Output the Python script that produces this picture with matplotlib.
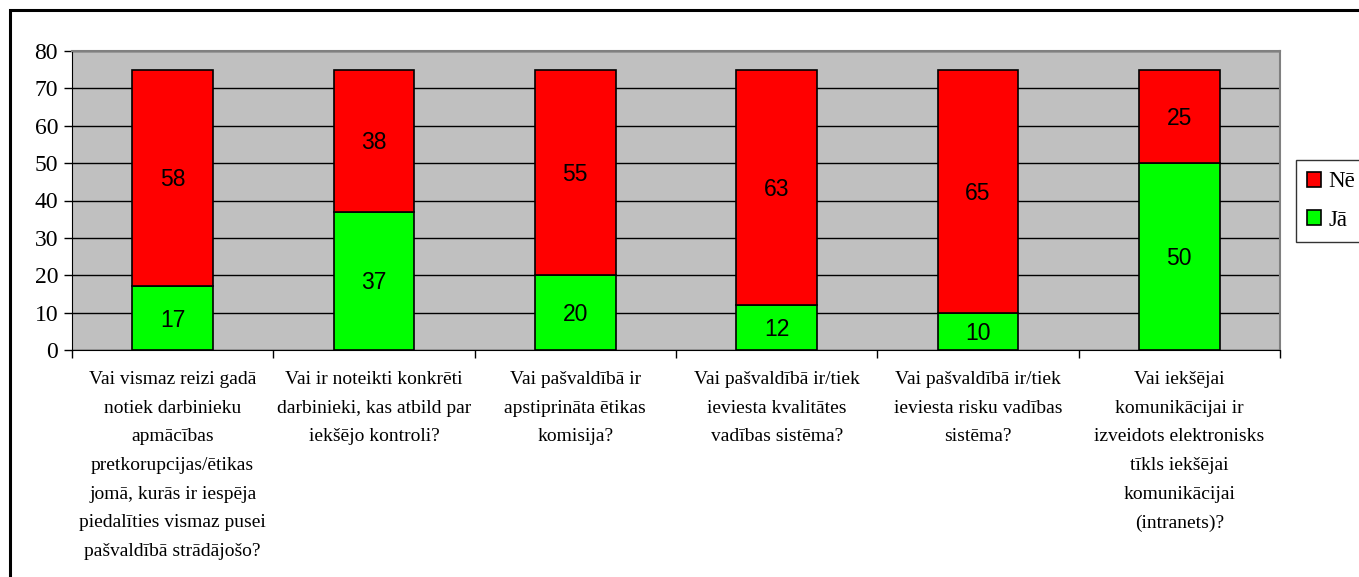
import matplotlib.pyplot as plt
from matplotlib.patches import Rectangle

categories = [
    "Vai vismaz reizi gadā\nnotiek darbinieku\napmācības\npretkorupcijas/ētikas\njomā, kurās ir iespēja\npiedalīties vismaz pusei\npašvaldībā strādājošo?",
    "Vai ir noteikti konkrēti\ndarbinieki, kas atbild par\niekšējo kontroli?",
    "Vai pašvaldībā ir\napstiprināta ētikas\nkomisija?",
    "Vai pašvaldībā ir/tiek\nieviesta kvalitātes\nvadības sistēma?",
    "Vai pašvaldībā ir/tiek\nieviesta risku vadības\nsistēma?",
    "Vai iekšējai\nkomunikācijai ir\nizveidots elektronisks\ntīkls iekšējai\nkomunikācijai\n(intranets)?",
]
ja = [17, 37, 20, 12, 10, 50]
ne = [58, 38, 55, 63, 65, 25]

serif = "Liberation Serif"
sans = "Liberation Sans"

fig = plt.figure(figsize=(13.59, 5.77), dpi=100)
W, H = 1359, 577
ax = fig.add_axes([72 / W, 1 - 350 / H, 1208 / W, 299 / H])

# outer frame of the chart area
fig.patches.append(Rectangle((10 / W, -0.05), 1.1, 1 - 10 / H + 0.05, transform=fig.transFigure,
                             fill=False, edgecolor="black", linewidth=2.2))

x = range(len(categories))
ax.set_facecolor("#C0C0C0")
ax.set_axisbelow(True)
ax.grid(axis="y", color="black", linewidth=1.0)

b1 = ax.bar(x, ja, width=0.4, color="#00FF00", edgecolor="black", linewidth=1.2, label="Jā")
b2 = ax.bar(x, ne, width=0.4, bottom=ja, color="#FF0000", edgecolor="black", linewidth=1.2, label="Nē")

for i in x:
    ax.text(i, ja[i] / 2 - 0.5, str(ja[i]), ha="center", va="center", fontsize=16.5, family=sans)
    ax.text(i, ja[i] + ne[i] / 2 - 0.5, str(ne[i]), ha="center", va="center", fontsize=16.5, family=sans)

ax.set_xlim(-0.5, len(categories) - 0.5)
ax.set_ylim(0, 80)
ax.set_yticks(range(0, 81, 10))
ax.set_xticks([i + 0.5 for i in range(-1, len(categories))], minor=False)
ax.set_xticklabels([])
ax.tick_params(axis="x", length=6, width=1, direction="out")
ax.tick_params(axis="y", length=6, width=1, direction="out", labelsize=17, pad=4)
for lbl in ax.get_yticklabels():
    lbl.set_family(serif)

for i, c in enumerate(categories):
    ax.text(i, -5.6, c, ha="center", va="top", fontsize=14, family=serif, linespacing=1.9)

ax.spines["left"].set_color("black")
ax.spines["bottom"].set_color("black")
ax.spines["top"].set_color("#808080")
ax.spines["right"].set_color("#808080")
ax.spines["top"].set_linewidth(1.5)
ax.spines["right"].set_linewidth(1.5)

leg = ax.legend(handles=[b2, b1], loc="upper left", bbox_to_anchor=(1224 / 1208, (350 - 160) / 299),
                frameon=True, fancybox=False, edgecolor="black", prop={"family": serif, "size": 16.5},
                handlelength=0.6, handleheight=0.6, handletextpad=0.3, labelspacing=0.75,
                borderpad=0.5, borderaxespad=0)
leg.get_frame().set_linewidth(1.0)

fig.savefig("out.png", dpi=100)
